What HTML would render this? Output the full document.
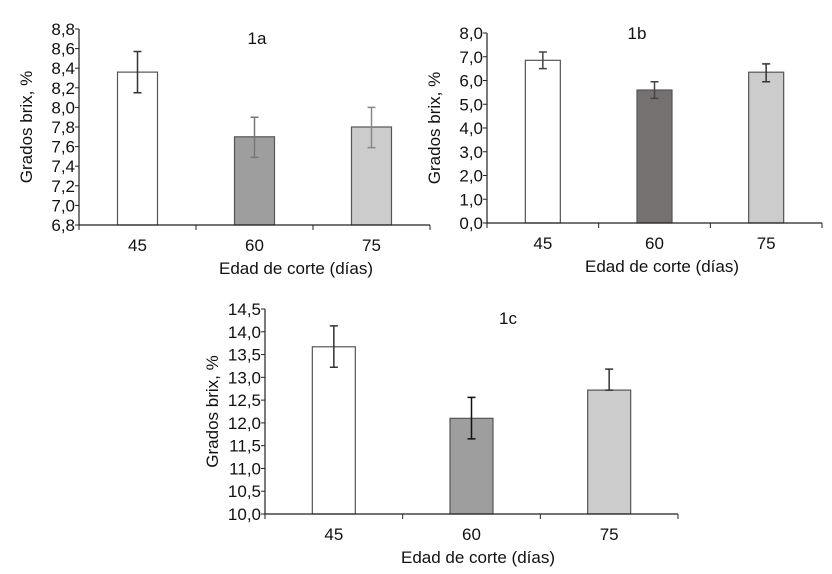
<!DOCTYPE html>
<html><head><meta charset="utf-8"><style>
body{margin:0;background:#fff;}
svg text{font-family:"Liberation Sans",sans-serif;fill:#111;}
</style></head><body>
<svg id="s" width="832" height="569" viewBox="0 0 832 569"></svg>
<script>
const categories=["45","60","75"];
const valuesA=[8.36,7.70,7.80];
const upperA=[8.57,7.90,8.00];
const lowerA=[8.15,7.49,7.59];
const ticksA=["6,8","7,0","7,2","7,4","7,6","7,8","8,0","8,2","8,4","8,6","8,8"];
const valuesB=[6.85,5.60,6.35];
const upperB=[7.20,5.95,6.70];
const lowerB=[6.50,5.25,5.95];
const ticksB=["0,0","1,0","2,0","3,0","4,0","5,0","6,0","7,0","8,0"];
const valuesC=[13.67,12.10,12.72];
const upperC=[14.13,12.56,13.18];
const lowerC=[13.22,11.65,12.72];
const ticksC=["10,0","10,5","11,0","11,5","12,0","12,5","13,0","13,5","14,0","14,5"];

const svg=document.getElementById('s');
const NS='http://www.w3.org/2000/svg';
function mk(tag,a,parent){const e=document.createElementNS(NS,tag);for(const k in a)e.setAttribute(k,a[k]);(parent||svg).appendChild(e);return e;}

function chart(o){
  const g=mk('g',{});
  
  
  const ymin=parseFloat(o.ticks[0].replace(',','.')),ymax=parseFloat(o.ticks[o.ticks.length-1].replace(',','.'));
  const y=v=>o.bot-(v-ymin)/(ymax-ymin)*(o.bot-o.top);
  const cw=(o.right-o.left)/categories.length;
  const xc=i=>o.left+cw*(i+0.5);
  const ya=mk('line',{x1:o.left,y1:o.top,x2:o.left,y2:o.bot,stroke:'#222','stroke-width':1.2},g);
  
  o.ticks.forEach(t=>{const v=parseFloat(t.replace(',','.'));
    mk('line',{x1:o.left-4,y1:y(v),x2:o.left,y2:y(v),stroke:'#222'},g);
    const tx=mk('text',{x:o.left-4,y:y(v)+6,'text-anchor':'end','font-size':17},g);tx.textContent=t;
    });
  categories.forEach((c,i)=>{
    const b=mk('rect',{x:xc(i)-o.bw/2,y:y(o.vals[i]),width:o.bw,height:o.bot-y(o.vals[i]),fill:o.fills[i],stroke:'#555','stroke-width':1.2},g);
    
    const e=mk('path',{d:`M${xc(i)},${y(o.up[i])}V${y(o.lo[i])}M${xc(i)-4},${y(o.up[i])}H${xc(i)+4}M${xc(i)-4},${y(o.lo[i])}H${xc(i)+4}`,stroke:o.ec[i],'stroke-width':1.5,fill:'none'},g);
    
    const tl=mk('text',{x:xc(i),y:o.bot+26,'text-anchor':'middle','font-size':17},g);tl.textContent=c;
    
  });
  const xa=mk('line',{x1:o.left,y1:o.bot,x2:o.right,y2:o.bot,stroke:'#222','stroke-width':1.2},g);
  
  for(let i=0;i<=categories.length;i++)mk('line',{x1:o.left+cw*i,y1:o.bot,x2:o.left+cw*i,y2:o.bot+5,stroke:'#222'},g);
  const xt=mk('text',{x:o.xtx,y:o.bot+49,'text-anchor':'middle','font-size':17},g);xt.textContent='Edad de corte (días)';
  
  const yx=o.left-47,ymid=(o.top+o.bot)/2;
  const yt=mk('text',{x:yx,y:ymid,'text-anchor':'middle','font-size':17,transform:`rotate(-90 ${yx} ${ymid})`},g);yt.textContent='Grados brix, %';
  
  const ti=mk('text',{x:o.tx,y:o.ty,'text-anchor':'middle','font-size':17},g);ti.textContent=o.id;
  
}
chart({id:'1a',left:79,right:430,top:29,bot:225,bw:40,vals:valuesA,up:upperA,lo:lowerA,ticks:ticksA,fills:['#fff','#9e9e9e','#cccccc'],ec:['#333','#777','#888'],tx:257,ty:44,xtx:296});
chart({id:'1b',left:487,right:822,top:33,bot:223,bw:35,vals:valuesB,up:upperB,lo:lowerB,ticks:ticksB,fills:['#fff','#757170','#cccccc'],ec:['#444','#444','#333'],tx:637,ty:39,xtx:662});
chart({id:'1c',left:265,right:678,top:309,bot:514,bw:43,vals:valuesC,up:upperC,lo:lowerC,ticks:ticksC,fills:['#fff','#9e9e9e','#cccccc'],ec:['#333','#111','#333'],tx:508,ty:324,xtx:478});
</script>
</body></html>
